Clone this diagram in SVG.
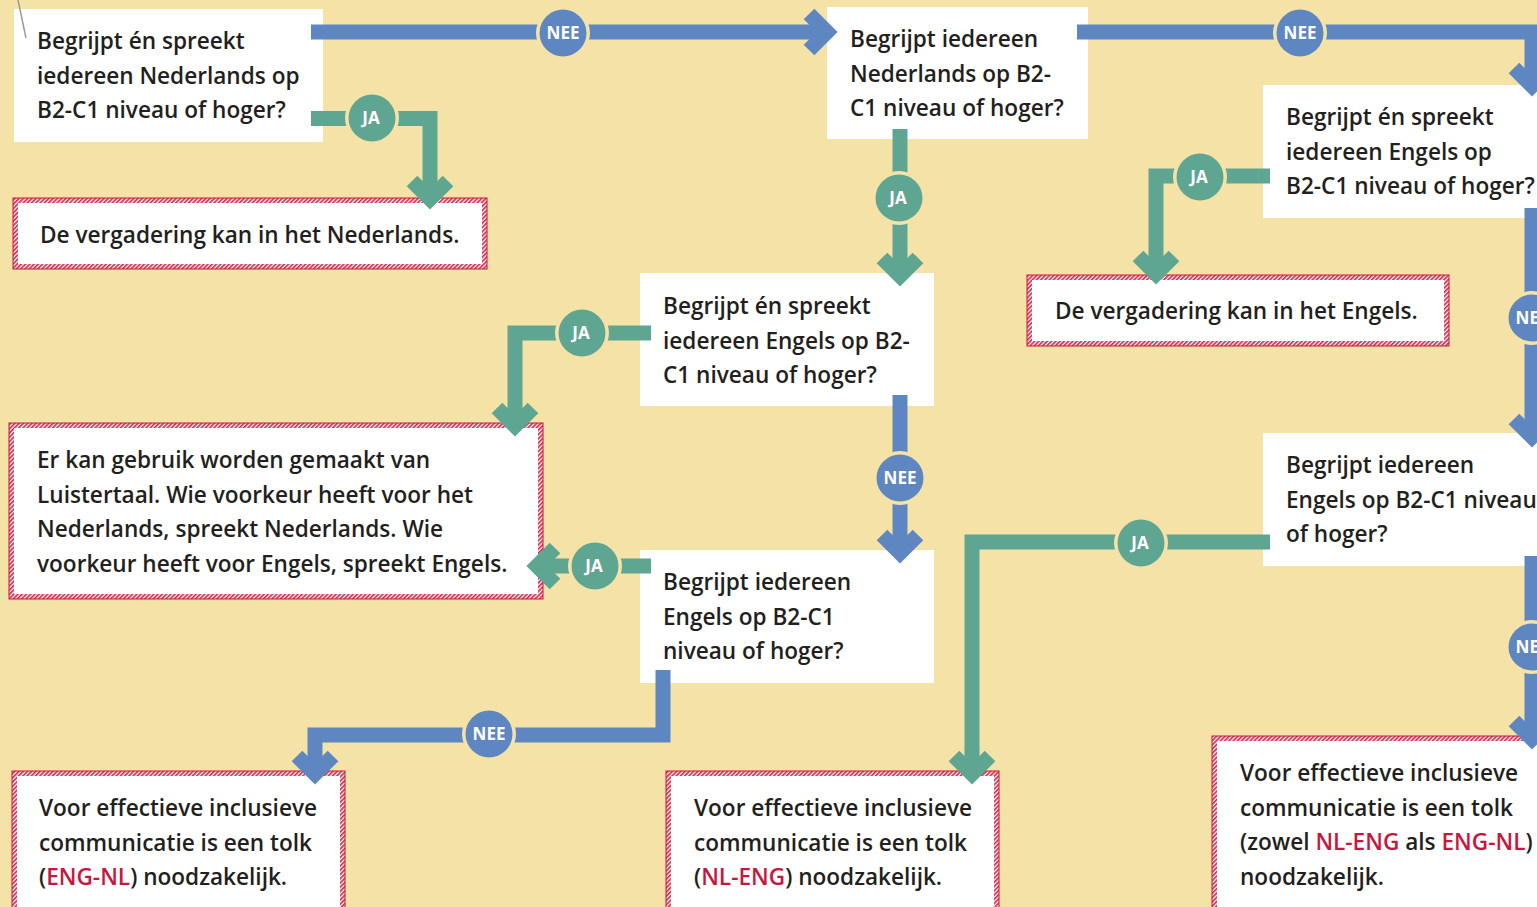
<svg xmlns="http://www.w3.org/2000/svg" width="1537" height="907" viewBox="0 0 1537 907">
<defs>
<style>
.bg{fill:#F5E2A6}
.box{fill:#ffffff}
.hat{fill:url(#hatch);stroke:#C8173F;stroke-width:1}
.t{font-family:"Open Sans","Noto Sans","DejaVu Sans",sans-serif;font-weight:600;font-size:22.6px;fill:#231F20}
.r{fill:#C8173F}
.lbl{font-family:"Open Sans","Noto Sans","DejaVu Sans",sans-serif;font-weight:700;font-size:17px;fill:#ffffff;text-anchor:middle}
.cb{fill:none;stroke:#5E87C2;stroke-width:15;stroke-linejoin:miter;stroke-miterlimit:10}
.cg{fill:none;stroke:#5FA692;stroke-width:15;stroke-linejoin:miter;stroke-miterlimit:10}
.ring{fill:#F5E2A6}
.nb{fill:#5E87C2}
.ng{fill:#5FA692}
</style>
<pattern id="hatch" width="3" height="3" patternUnits="userSpaceOnUse" patternTransform="rotate(45)">
<rect width="3" height="3" fill="#ffffff"/>
<rect width="1.7" height="3" fill="#D0284A"/>
</pattern>
<marker id="ab" markerUnits="userSpaceOnUse" markerWidth="60" markerHeight="60" viewBox="-40 -30 60 60" refX="0" refY="0" orient="auto" overflow="visible">
<path d="M -18 -18 L 0 0 L -18 18" fill="none" stroke="#5E87C2" stroke-width="15" stroke-miterlimit="10"/>
</marker>
<marker id="ag" markerUnits="userSpaceOnUse" markerWidth="60" markerHeight="60" viewBox="-40 -30 60 60" refX="0" refY="0" orient="auto" overflow="visible">
<path d="M -18 -18 L 0 0 L -18 18" fill="none" stroke="#5FA692" stroke-width="15" stroke-miterlimit="10"/>
</marker>
</defs>
<rect class="bg" x="0" y="0" width="1537" height="907"/>

<g id="nodes">
<g id="q1">
<rect class="box" x="14" y="9" width="309" height="133"/>
<text class="t" x="37" y="49">Begrijpt én spreekt</text>
<text class="t" x="37" y="83.5">iedereen Nederlands op</text>
<text class="t" x="37" y="118">B2-C1 niveau of hoger?</text>
</g>
<g id="q2">
<rect class="box" x="827" y="7" width="261" height="132"/>
<text class="t" x="850" y="47">Begrijpt iedereen</text>
<text class="t" x="850" y="81.5">Nederlands op B2-</text>
<text class="t" x="850" y="116">C1 niveau of hoger?</text>
</g>
<g id="q3">
<rect class="box" x="1263" y="85" width="280" height="133"/>
<text class="t" x="1286" y="125">Begrijpt én spreekt</text>
<text class="t" x="1286" y="159.5">iedereen Engels op</text>
<text class="t" x="1286" y="194">B2-C1 niveau of hoger?</text>
</g>
<g id="r-nl">
<rect class="hat" x="13" y="198" width="474" height="71"/>
<rect class="box" x="18" y="203" width="464" height="61"/>
<text class="t" x="40" y="243">De vergadering kan in het Nederlands.</text>
</g>
<g id="q4">
<rect class="box" x="640" y="273" width="294" height="133"/>
<text class="t" x="663" y="314">Begrijpt én spreekt</text>
<text class="t" x="663" y="348.5">iedereen Engels op B2-</text>
<text class="t" x="663" y="383">C1 niveau of hoger?</text>
</g>
<g id="r-en">
<rect class="hat" x="1027" y="275" width="422" height="71"/>
<rect class="box" x="1032" y="280" width="412" height="61"/>
<text class="t" x="1055" y="319">De vergadering kan in het Engels.</text>
</g>
<g id="r-luister">
<rect class="hat" x="9" y="423" width="534" height="176"/>
<rect class="box" x="14" y="428" width="524" height="166"/>
<text class="t" x="37" y="468">Er kan gebruik worden gemaakt van</text>
<text class="t" x="37" y="502.5">Luistertaal. Wie voorkeur heeft voor het</text>
<text class="t" x="37" y="537">Nederlands, spreekt Nederlands. Wie</text>
<text class="t" x="37" y="571.5">voorkeur heeft voor Engels, spreekt Engels.</text>
</g>
<g id="q5">
<rect class="box" x="640" y="550" width="294" height="133"/>
<text class="t" x="663" y="590">Begrijpt iedereen</text>
<text class="t" x="663" y="624.5">Engels op B2-C1</text>
<text class="t" x="663" y="659">niveau of hoger?</text>
</g>
<g id="q6">
<rect class="box" x="1263" y="433" width="280" height="133"/>
<text class="t" x="1286" y="473">Begrijpt iedereen</text>
<text class="t" x="1286" y="507.5">Engels op B2-C1 niveau</text>
<text class="t" x="1286" y="542">of hoger?</text>
</g>
<g id="r-engnl">
<rect class="hat" x="12" y="771" width="333" height="145"/>
<rect class="box" x="17" y="776" width="323" height="140"/>
<text class="t" x="39" y="816">Voor effectieve inclusieve</text>
<text class="t" x="39" y="850.5">communicatie is een tolk</text>
<text class="t" x="39" y="885">(<tspan class="r">ENG-NL</tspan>) noodzakelijk.</text>
</g>
<g id="r-nleng">
<rect class="hat" x="666" y="771" width="333" height="145"/>
<rect class="box" x="671" y="776" width="323" height="140"/>
<text class="t" x="694" y="816">Voor effectieve inclusieve</text>
<text class="t" x="694" y="850.5">communicatie is een tolk</text>
<text class="t" x="694" y="885">(<tspan class="r">NL-ENG</tspan>) noodzakelijk.</text>
</g>
<g id="r-beide">
<rect class="hat" x="1212" y="736" width="340" height="180"/>
<rect class="box" x="1217" y="741" width="330" height="175"/>
<text class="t" x="1240" y="781">Voor effectieve inclusieve</text>
<text class="t" x="1240" y="815.5">communicatie is een tolk</text>
<text class="t" x="1240" y="850">(zowel <tspan class="r">NL-ENG</tspan> als <tspan class="r">ENG-NL</tspan>)</text>
<text class="t" x="1240" y="884.5">noodzakelijk.</text>
</g>
</g>

<line x1="18" y1="0" x2="26" y2="38" stroke="#9a9a9a" stroke-width="1.5"/>

<g id="connectors">
<path class="cb" d="M 311 32 H 827" marker-end="url(#ab)"/>
<path class="cb" d="M 1077 32 H 1532 V 86" marker-end="url(#ab)"/>
<path class="cb" d="M 1532 208 V 437" marker-end="url(#ab)"/>
<path class="cb" d="M 1532 556 V 739" marker-end="url(#ab)"/>
<path class="cb" d="M 900 395 V 553" marker-end="url(#ab)"/>
<path class="cb" d="M 663 670 V 735 H 315 V 774" marker-end="url(#ab)"/>
<path class="cg" d="M 311 118.5 H 430 V 199" marker-end="url(#ag)"/>
<path class="cg" d="M 900 129 V 276" marker-end="url(#ag)"/>
<path class="cg" d="M 651 333 H 515 V 426" marker-end="url(#ag)"/>
<path class="cg" d="M 651 566 H 537" marker-end="url(#ag)"/>
<path class="cg" d="M 1270 542 H 972 V 774" marker-end="url(#ag)"/>
<path class="cg" d="M 1270 176 H 1156 V 274" marker-end="url(#ag)"/>

<g id="labels">
<circle class="ring" cx="563" cy="33" r="27"/><circle class="nb" cx="563" cy="33" r="23.5"/><text class="lbl" x="563" y="39">NEE</text>
<circle class="ring" cx="1300" cy="33" r="27"/><circle class="nb" cx="1300" cy="33" r="23.5"/><text class="lbl" x="1300" y="39">NEE</text>
<circle class="ring" cx="1532" cy="318" r="27"/><circle class="nb" cx="1532" cy="318" r="23.5"/><text class="lbl" x="1532" y="324">NEE</text>
<circle class="ring" cx="1532" cy="647" r="27"/><circle class="nb" cx="1532" cy="647" r="23.5"/><text class="lbl" x="1532" y="653">NEE</text>
<circle class="ring" cx="900" cy="478" r="27"/><circle class="nb" cx="900" cy="478" r="23.5"/><text class="lbl" x="900" y="484">NEE</text>
<circle class="ring" cx="489" cy="734" r="27"/><circle class="nb" cx="489" cy="734" r="23.5"/><text class="lbl" x="489" y="740">NEE</text>
<circle class="ring" cx="372" cy="118" r="27"/><circle class="ng" cx="372" cy="118" r="23.5"/><text class="lbl" x="371" y="124">JA</text>
<circle class="ring" cx="899" cy="198" r="27"/><circle class="ng" cx="899" cy="198" r="23.5"/><text class="lbl" x="898" y="204">JA</text>
<circle class="ring" cx="582" cy="333" r="27"/><circle class="ng" cx="582" cy="333" r="23.5"/><text class="lbl" x="581" y="339">JA</text>
<circle class="ring" cx="595" cy="566" r="27"/><circle class="ng" cx="595" cy="566" r="23.5"/><text class="lbl" x="594" y="572">JA</text>
<circle class="ring" cx="1141" cy="543" r="27"/><circle class="ng" cx="1141" cy="543" r="23.5"/><text class="lbl" x="1140" y="549">JA</text>
<circle class="ring" cx="1200" cy="177" r="27"/><circle class="ng" cx="1200" cy="177" r="23.5"/><text class="lbl" x="1199" y="183">JA</text>
</g>
</g>
</svg>
